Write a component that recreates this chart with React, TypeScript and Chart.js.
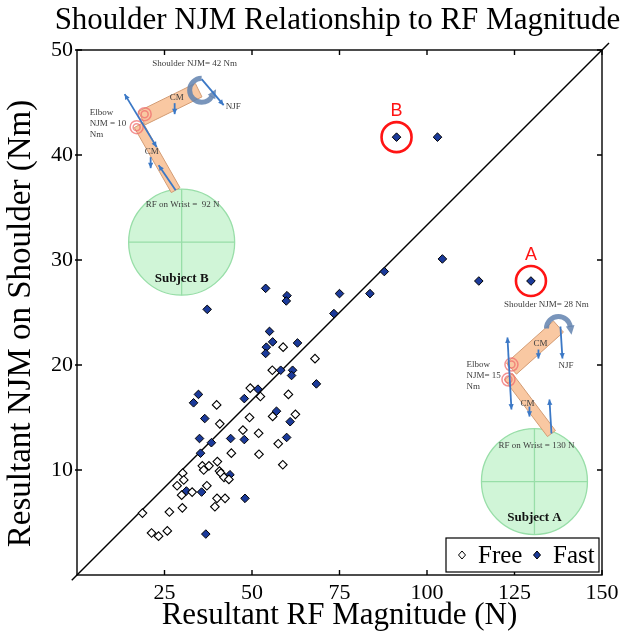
import { useEffect, useRef } from 'react';
import { Chart, registerables } from 'chart.js';

Chart.register(...registerables);

// Free condition (open diamonds)
const freeX = [58.9, 68.0, 55.8, 49.5, 52.4, 60.4, 39.9, 49.3, 55.9, 62.4, 40.8, 47.4, 51.9, 57.5, 44.1, 52.0, 58.8, 35.8, 37.7, 40.1,
  36.2, 40.7, 41.1, 42.0, 43.4, 30.2, 30.5, 28.6, 29.9, 32.9, 37.1, 40.0, 42.3, 39.4, 26.4, 30.1, 18.7, 21.3, 23.3, 25.8];
const freeY = [21.7, 20.6, 19.5, 17.8, 17.0, 17.2, 16.2, 15.0, 15.1, 15.3, 14.4, 13.8, 13.5, 12.5, 11.6, 11.5, 10.5, 10.4, 10.4, 10.8,
  10.0, 9.9, 9.7, 9.3, 9.1, 9.7, 9.05, 8.5, 7.6, 7.9, 8.5, 7.3, 7.3, 6.5, 6.0, 6.4, 5.9, 4.0, 3.7, 4.2];

// Fast condition (filled diamonds)
const fastX = [53.9, 60.0, 59.8, 75.0, 73.4, 37.2, 55.0, 55.9, 54.1, 53.9, 63.0, 58.2, 61.6, 61.3, 68.4, 51.7, 47.8, 34.7, 33.3, 36.5,
  57.0, 60.9, 35.0, 38.4, 43.9, 47.8, 59.9, 35.3, 43.7, 31.25, 35.6, 48.0, 36.8, 91.3, 103.0, 104.4, 114.8, 129.7, 87.8, 83.7];
const fastY = [27.3, 26.6, 26.1, 26.8, 24.9, 25.3, 23.2, 22.2, 21.7, 21.1, 22.1, 19.5, 19.5, 19.0, 18.2, 17.7, 16.8, 17.2, 16.4, 14.9,
  15.6, 14.6, 13.0, 12.6, 13.0, 12.9, 13.1, 11.6, 9.55, 8.0, 7.9, 7.3, 3.9, 41.7, 41.7, 30.1, 28.0, 28.0, 28.9, 26.8];

// reference line
const diagX = [-1.5, 152];
const diagY = [-0.5, 50.67];

const xTicks = [25, 50, 75, 100, 125, 150];
const yTicks = [10, 20, 30, 40, 50];

// circled subjects (index into fast series)
const calloutLabels = ['B', 'A'];
const calloutIdx = [33, 37];

const SERIF = '"Liberation Serif", "Times New Roman", serif';
const SANS = '"Liberation Sans", Arial, sans-serif';

type Pt = [number, number];
interface Subject {
  name: string; cx: number; cy: number;
  shoulderText: string; shoulderAt: Pt;
  elbowText: string[]; elbowAt: Pt;
  wristText: string; wristAt: Pt;
  upper: [Pt, Pt]; fore: [Pt, Pt];
  moment: { c: Pt; start: number; end: number; ccw: boolean };
  njf: [Pt, Pt]; njfAt: Pt;
  elbowArrow: [Pt, Pt];
  wristArrow: [Pt, Pt];
  cmArrows: [Pt, Pt][];
  cmAt: Pt[];
  rings: Pt[];
}

// arm sketches, offsets in px from the circle centre
const subjects: Subject[] = [
  {
    name: 'Subject B', cx: 29.9, cy: 31.7,
    shoulderText: 'Shoulder NJM= 42 Nm', shoulderAt: [13, -179],
    elbowText: ['Elbow', 'NJM = 10', 'Nm'], elbowAt: [-92, -130],
    wristText: 'RF on Wrist =  92 N', wristAt: [1, -38],
    upper: [[17, -152], [-40, -124]], fore: [[-43, -117], [-6, -52]],
    moment: { c: [20, -152], start: -Math.PI / 2, end: Math.PI / 6, ccw: true },
    njf: [[20, -163], [42, -137]], njfAt: [44, -136],
    elbowArrow: [[-57, -148], [-25, -95]],
    wristArrow: [[-6, -52], [-23, -77]],
    cmArrows: [[[-7, -139], [-7, -128]], [[-31, -85], [-31, -74]]],
    cmAt: [[-5, -145], [-30, -91]],
    rings: [[-37, -128], [-45, -115]],
  },
  {
    name: 'Subject A', cx: 130.7, cy: 8.9,
    shoulderText: 'Shoulder NJM= 28 Nm', shoulderAt: [12, -177],
    elbowText: ['Elbow', 'NJM= 15', 'Nm'], elbowAt: [-68, -117],
    wristText: 'RF on Wrist = 130 N', wristAt: [2, -36],
    upper: [[24, -155], [-23, -113]], fore: [[-26, -105], [17, -48]],
    moment: { c: [24, -153], start: Math.PI, end: 2 * Math.PI - 0.15, ccw: false },
    njf: [[26, -155], [28, -123]], njfAt: [24, -116],
    elbowArrow: [[-27, -144], [-23, -72]],
    wristArrow: [[17, -48], [15, -82]],
    cmArrows: [[[4, -132], [4, -123]], [[-5, -75], [-5, -65]]],
    cmAt: [[6, -138], [-7, -78]],
    rings: [[-23, -117], [-26, -102]],
  },
];

function arrowHead(ctx: CanvasRenderingContext2D, fx: number, fy: number, tx: number, ty: number, size: number) {
  const a = Math.atan2(ty - fy, tx - fx);
  ctx.beginPath();
  ctx.moveTo(tx, ty);
  ctx.lineTo(tx - size * Math.cos(a - 0.45), ty - size * Math.sin(a - 0.45));
  ctx.lineTo(tx - size * Math.cos(a + 0.45), ty - size * Math.sin(a + 0.45));
  ctx.closePath();
  ctx.fill();
}

function arrow(ctx: CanvasRenderingContext2D, a: Pt, b: Pt, both = false) {
  ctx.beginPath();
  ctx.moveTo(a[0], a[1]);
  ctx.lineTo(b[0], b[1]);
  ctx.stroke();
  arrowHead(ctx, a[0], a[1], b[0], b[1], 6);
  if (both) arrowHead(ctx, b[0], b[1], a[0], a[1], 6);
}

function limb(ctx: CanvasRenderingContext2D, a: Pt, b: Pt, w: number) {
  const ang = Math.atan2(b[1] - a[1], b[0] - a[0]);
  const nx = -Math.sin(ang) * w / 2, ny = Math.cos(ang) * w / 2;
  ctx.beginPath();
  ctx.moveTo(a[0] + nx, a[1] + ny);
  ctx.lineTo(b[0] + nx, b[1] + ny);
  ctx.lineTo(b[0] - nx, b[1] - ny);
  ctx.lineTo(a[0] - nx, a[1] - ny);
  ctx.closePath();
  ctx.fillStyle = '#f9c8a2';
  ctx.strokeStyle = '#d39c74';
  ctx.lineWidth = 1;
  ctx.fill();
  ctx.stroke();
}

function drawSubject(ctx: CanvasRenderingContext2D, ox: number, oy: number, s: Subject) {
  const P = (p: Pt): Pt => [ox + p[0], oy + p[1]];
  const r = 53;
  ctx.save();
  // wrist target circle
  ctx.beginPath();
  ctx.arc(ox, oy, r, 0, Math.PI * 2);
  ctx.fillStyle = 'rgba(200, 243, 208, 0.85)';
  ctx.fill();
  ctx.strokeStyle = '#98dea8';
  ctx.lineWidth = 1.3;
  ctx.stroke();
  ctx.beginPath();
  ctx.moveTo(ox - r, oy); ctx.lineTo(ox + r, oy);
  ctx.moveTo(ox, oy - r); ctx.lineTo(ox, oy + r);
  ctx.stroke();

  ctx.fillStyle = '#111';
  ctx.font = `bold 13px ${SERIF}`;
  ctx.textAlign = 'center';
  ctx.textBaseline = 'middle';
  ctx.fillText(s.name, ox, oy + 36);

  // arm segments
  limb(ctx, P(s.upper[0]), P(s.upper[1]), 15);
  limb(ctx, P(s.fore[0]), P(s.fore[1]), 10);

  // elbow moment rings
  ctx.strokeStyle = 'rgba(240, 110, 110, 0.75)';
  ctx.lineWidth = 1.5;
  s.rings.forEach((p) => {
    const [x, y] = P(p);
    ctx.beginPath(); ctx.arc(x, y, 6.5, 0, Math.PI * 2); ctx.stroke();
    ctx.beginPath(); ctx.arc(x, y, 3.5, 0, Math.PI * 2); ctx.stroke();
  });

  // shoulder moment (curved arrow)
  const [mx, my] = P(s.moment.c);
  const mr = 12;
  ctx.strokeStyle = 'rgba(98, 130, 175, 0.85)';
  ctx.fillStyle = 'rgba(98, 130, 175, 0.85)';
  ctx.lineWidth = 5;
  ctx.beginPath();
  ctx.arc(mx, my, mr, s.moment.start, s.moment.end, s.moment.ccw);
  ctx.stroke();
  const ea = s.moment.end;
  const ex = mx + mr * Math.cos(ea), ey = my + mr * Math.sin(ea);
  const dir = s.moment.ccw ? 1 : -1;
  const tx = ex + dir * Math.sin(ea) * 8, ty = ey - dir * Math.cos(ea) * 8;
  arrowHead(ctx, ex, ey, tx, ty, 10);

  // force arrows
  ctx.strokeStyle = '#3b78c6';
  ctx.fillStyle = '#3b78c6';
  ctx.lineWidth = 1.8;
  arrow(ctx, P(s.njf[0]), P(s.njf[1]));
  arrow(ctx, P(s.elbowArrow[0]), P(s.elbowArrow[1]), true);
  arrow(ctx, P(s.wristArrow[0]), P(s.wristArrow[1]));
  s.cmArrows.forEach((a) => arrow(ctx, P(a[0]), P(a[1])));

  // labels
  ctx.fillStyle = '#3c3c3c';
  ctx.font = `9px ${SERIF}`;
  ctx.textAlign = 'center';
  ctx.fillText(s.shoulderText, ...P(s.shoulderAt));
  ctx.fillText(s.wristText, ...P(s.wristAt));
  s.cmAt.forEach((p) => ctx.fillText('CM', ...P(p)));
  ctx.textAlign = 'left';
  ctx.fillText('NJF', ...P(s.njfAt));
  const [elx, ely] = P(s.elbowAt);
  s.elbowText.forEach((t, i) => ctx.fillText(t, elx, ely + i * 11));
  ctx.restore();
}

const decorPlugin = {
  id: 'decor',
  beforeDatasetsDraw(chart: Chart) {
    const { ctx, scales } = chart;
    subjects.forEach((s) => {
      drawSubject(ctx, scales.x.getPixelForValue(s.cx), scales.y.getPixelForValue(s.cy), s);
    });
  },
  afterDraw(chart: Chart) {
    const { ctx, chartArea: a, scales } = chart;
    ctx.save();
    // title
    ctx.fillStyle = '#000';
    ctx.font = `31px ${SERIF}`;
    ctx.textAlign = 'center';
    ctx.textBaseline = 'alphabetic';
    ctx.fillText('Shoulder NJM Relationship to RF Magnitude', (a.left + a.right) / 2 - 2, 29);

    // y axis title
    ctx.save();
    ctx.translate(21, (a.top + a.bottom) / 2 + 11);
    ctx.rotate(-Math.PI / 2);
    ctx.font = `33px ${SERIF}`;
    ctx.textBaseline = 'middle';
    ctx.fillText('Resultant NJM on Shoulder (Nm)', 0, 0);
    ctx.restore();

    // frame and inward ticks
    ctx.strokeStyle = '#000';
    ctx.lineWidth = 1.4;
    ctx.strokeRect(a.left, a.top, a.right - a.left, a.bottom - a.top);
    ctx.beginPath();
    xTicks.forEach((v) => {
      const x = scales.x.getPixelForValue(v);
      ctx.moveTo(x, a.bottom); ctx.lineTo(x, a.bottom - 5);
      ctx.moveTo(x, a.top); ctx.lineTo(x, a.top + 5);
    });
    yTicks.forEach((v) => {
      const y = scales.y.getPixelForValue(v);
      ctx.moveTo(a.left - 2, y); ctx.lineTo(a.left + 5, y);
      ctx.moveTo(a.right, y); ctx.lineTo(a.right - 5, y);
    });
    ctx.stroke();

    // circled subjects
    const fast = chart.getDatasetMeta(1).data;
    calloutIdx.forEach((idx, i) => {
      const p = fast[idx];
      ctx.beginPath();
      ctx.arc(p.x, p.y, 15, 0, Math.PI * 2);
      ctx.strokeStyle = '#ff1414';
      ctx.lineWidth = 2.6;
      ctx.stroke();
      ctx.fillStyle = '#ff1414';
      ctx.font = `18px ${SANS}`;
      ctx.textAlign = 'center';
      ctx.textBaseline = 'middle';
      ctx.fillText(calloutLabels[i], p.x, p.y - 26);
    });

    // legend
    const bx = a.right - 156, by = a.bottom - 37, bw = 153, bh = 34;
    ctx.fillStyle = '#fff';
    ctx.fillRect(bx, by, bw, bh);
    ctx.strokeStyle = '#000';
    ctx.lineWidth = 1.2;
    ctx.strokeRect(bx, by, bw, bh);
    const my = by + 17;
    const diamond = (x: number, fill: string) => {
      ctx.beginPath();
      ctx.moveTo(x, my - 4); ctx.lineTo(x + 3.5, my); ctx.lineTo(x, my + 4); ctx.lineTo(x - 3.5, my);
      ctx.closePath();
      ctx.fillStyle = fill; ctx.fill();
      ctx.strokeStyle = '#000'; ctx.lineWidth = 1; ctx.stroke();
    };
    diamond(bx + 16, '#fff');
    diamond(bx + 91, '#1b3a9a');
    ctx.fillStyle = '#000';
    ctx.font = `25px ${SERIF}`;
    ctx.textAlign = 'left';
    ctx.textBaseline = 'alphabetic';
    ctx.fillText('Free', bx + 32, by + 25);
    ctx.fillText('Fast', bx + 107, by + 25);
    ctx.restore();
  },
};

export default function App() {
  const canvasRef = useRef<HTMLCanvasElement>(null);
  const chartRef = useRef<Chart | null>(null);

  useEffect(() => {
    if (!canvasRef.current) return;
    const ctx = canvasRef.current.getContext('2d');
    if (!ctx) return;

    chartRef.current?.destroy();
    chartRef.current = new Chart(ctx, {
      type: 'scatter',
      data: {
        datasets: [
          {
            label: 'Free',
            data: freeX.map((x, i) => ({ x, y: freeY[i] })),
            pointStyle: 'rectRot',
            pointRadius: 4.3,
            backgroundColor: '#ffffff',
            borderColor: '#000000',
            borderWidth: 1.1,
          },
          {
            label: 'Fast',
            data: fastX.map((x, i) => ({ x, y: fastY[i] })),
            pointStyle: 'rectRot',
            pointRadius: 4.3,
            backgroundColor: '#1b3a9a',
            borderColor: '#000000',
            borderWidth: 1,
          },
          {
            type: 'line',
            label: 'ref',
            data: diagX.map((x, i) => ({ x, y: diagY[i] })),
            borderColor: '#000000',
            borderWidth: 1.5,
            pointRadius: 0,
            clip: false,
          } as any,
        ],
      },
      options: {
        animation: false,
        responsive: true,
        maintainAspectRatio: false,
        layout: { padding: { top: 50, right: 36, left: 0, bottom: 0 } },
        plugins: { legend: { display: false }, tooltip: { enabled: false } },
        scales: {
          x: {
            type: 'linear',
            min: 0,
            max: 150,
            grid: { display: false, drawTicks: false },
            border: { display: false },
            ticks: {
              stepSize: 25,
              color: '#000',
              font: { family: SERIF, size: 22 },
              padding: 5,
              maxRotation: 0,
              callback: (v: any) => (v === 0 ? '' : v),
            },
            title: {
              display: true,
              text: 'Resultant RF Magnitude (N)',
              color: '#000',
              font: { family: SERIF, size: 31 },
              padding: { bottom: 4, top: 0 },
            },
            afterFit: (s: any) => { s.height = 63; },
          },
          y: {
            type: 'linear',
            min: 0,
            max: 50,
            grid: { display: false, drawTicks: false },
            border: { display: false },
            ticks: {
              stepSize: 10,
              color: '#000',
              font: { family: SERIF, size: 22 },
              padding: 4,
              callback: (v: any) => (v === 0 ? '' : v),
            },
            afterFit: (s: any) => { s.width = 77; },
          },
        },
      },
      plugins: [decorPlugin],
    });

    return () => { chartRef.current?.destroy(); };
  }, []);

  return (
    <div style={{ position: 'absolute', left: 0, top: 0, width: 638, height: 638, background: '#fff' }}>
      <canvas ref={canvasRef} />
    </div>
  );
}
